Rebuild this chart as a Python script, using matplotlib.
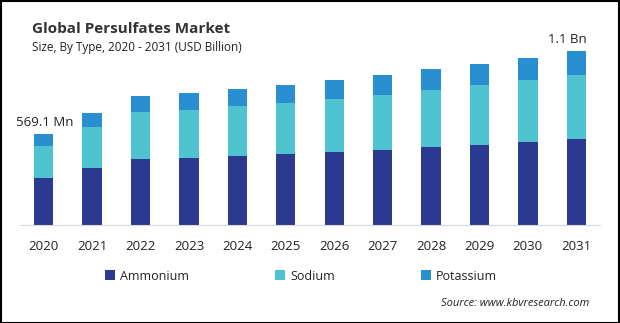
import numpy as np
import matplotlib
matplotlib.use("Agg")
import matplotlib.pyplot as plt
from matplotlib.patches import Rectangle

years = ["2020", "2021", "2022", "2023", "2024", "2025",
         "2026", "2027", "2028", "2029", "2030", "2031"]
ammonium = [0.294, 0.356, 0.413, 0.419, 0.431, 0.444, 0.456, 0.469, 0.488, 0.500, 0.519, 0.538]
sodium = [0.200, 0.256, 0.294, 0.300, 0.313, 0.319, 0.331, 0.344, 0.356, 0.375, 0.388, 0.400]
potassium = [0.075, 0.088, 0.100, 0.106, 0.106, 0.113, 0.119, 0.125, 0.131, 0.131, 0.138, 0.150]
first_label = "569.1 Mn"
last_label = "1.1 Bn"

c_amm = "#2B3990"
c_sod = "#4FC3CF"
c_pot = "#2A8FD0"
txt = "#222222"

plt.rcParams['font.family'] = ['Open Sans', 'DejaVu Sans']

W, H = 620, 323
fig = plt.figure(figsize=(W / 100, H / 100), dpi=100)

# axes placed in pixel terms: x 20..600, baseline at y=225, 160 px per billion
ax = fig.add_axes([20 / W, (H - 225) / H, 580 / W, 192 / H])
ax.set_xlim(-0.49, 11.49)
ax.set_ylim(0, 1.2)

x = np.arange(len(years))
amm = np.array(ammonium)
sod = np.array(sodium)
pot = np.array(potassium)
w = 0.40
ax.bar(x, amm, width=w, color=c_amm, label="Ammonium")
ax.bar(x, sod, width=w, bottom=amm, color=c_sod, label="Sodium")
ax.bar(x, pot, width=w, bottom=amm + sod, color=c_pot, label="Potassium")

total = amm + sod + pot
ax.text(x[0] + 0.03, total[0] + 0.03, first_label, ha="center", va="bottom",
        fontsize=9.5, color=txt)
ax.text(x[-1] - 0.18, total[-1] + 0.03, last_label, ha="center", va="bottom",
        fontsize=9.5, color=txt)

for s in ["top", "right", "left"]:
    ax.spines[s].set_visible(False)
ax.spines["bottom"].set_color("#d9d9d9")
ax.set_yticks([])
ax.set_xticks(x)
ax.set_xticklabels(years, fontsize=9.5, color=txt)
ax.tick_params(axis="x", length=0, pad=11)

fig.text(32 / W, 1 - 29 / H, "Global Persulfates Market", fontsize=11,
         fontweight="bold", color="#333333", va="center", ha="left")
fig.text(32 / W, 1 - 48 / H, "Size, By Type, 2020 - 2031 (USD Billion)", fontsize=8.5,
         color=txt, va="center", ha="left")

leg = fig.legend(loc="center", bbox_to_anchor=(301 / W, 1 - 276 / H), ncol=3,
                 frameon=False, fontsize=9, handlelength=0.8, handleheight=0.8,
                 handletextpad=0.4, columnspacing=6.9)
for t in leg.get_texts():
    t.set_color(txt)

fig.text(589 / W, 1 - 304 / H, "Source: www.kbvresearch.com", fontsize=8,
         style="italic", color=txt, ha="right", va="center")

fig.patches.append(Rectangle((0.5 / W, 0.5 / H), 1 - 1.5 / W, 1 - 1.5 / H,
                             transform=fig.transFigure, fill=False,
                             edgecolor="black", linewidth=1.5))

fig.savefig("out.png", dpi=100)
